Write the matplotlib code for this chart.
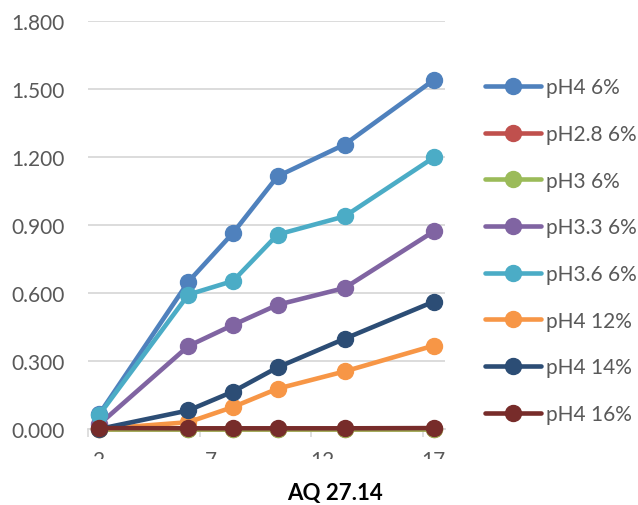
import matplotlib as mpl
import matplotlib.pyplot as plt
from matplotlib.patches import Rectangle

mpl.rcParams['font.family'] = ['Lato', 'DejaVu Sans']

# data
days = [2, 6, 8, 10, 13, 17]
series_names = ['pH4 6%', 'pH2.8 6%', 'pH3 6%', 'pH3.3 6%', 'pH3.6 6%',
                'pH4 12%', 'pH4 14%', 'pH4 16%']
ph4_6 = [0.065, 0.650, 0.865, 1.115, 1.255, 1.540]
ph28_6 = [0.0, 0.0, 0.0, 0.0, 0.0, 0.0]
ph3_6 = [0.0, 0.0, 0.0, 0.0, 0.0, 0.0]
ph33_6 = [0.020, 0.366, 0.459, 0.548, 0.622, 0.872]
ph36_6 = [0.062, 0.593, 0.653, 0.858, 0.938, 1.198]
ph4_12 = [0.0, 0.030, 0.097, 0.178, 0.254, 0.368]
ph4_14 = [0.0, 0.082, 0.165, 0.272, 0.398, 0.562]
ph4_16 = [0.004, 0.003, 0.003, 0.003, 0.003, 0.004]
values = [ph4_6, ph28_6, ph3_6, ph33_6, ph36_6, ph4_12, ph4_14, ph4_16]
colors = ['#4F81BD', '#C0504D', '#9BBB59', '#8064A2', '#4BACC6',
          '#F79646', '#2C4D75', '#772C2A']

fig = plt.figure(figsize=(6.38, 5.06), dpi=100)
ax = fig.add_axes([88 / 638, 76 / 506, 357 / 638, 408 / 506])

for name, vals, c in zip(series_names, values, colors):
    ax.plot(days, vals, color=c, lw=3.3, marker='o', ms=11.5,
            label=name, solid_capstyle='round', clip_on=False, zorder=3)

ax.set_ylim(0, 1.8)
ax.set_yticks([0, 0.3, 0.6, 0.9, 1.2, 1.5, 1.8])
ax.set_yticklabels(['%.3f' % v for v in ax.get_yticks()])
ax.set_xlim(1.5, 17.5)
ax.set_xticks([2, 7, 12, 17])
ax.set_xticks([1.5, 6.5, 11.5, 16.5], minor=True)
ax.tick_params(axis='x', which='major', length=0, pad=15, labelsize=15,
               labelcolor='#595959')
ax.tick_params(axis='x', which='minor', length=6, width=1.2, color='#D9D9D9',
               direction='out')
ax.tick_params(axis='y', length=0, pad=17, labelsize=15, labelcolor='#595959')

ax.grid(axis='y', color='#D9D9D9', lw=1.3, zorder=0)
ax.set_axisbelow(True)
for s in ['top', 'right', 'left']:
    ax.spines[s].set_visible(False)
ax.spines['bottom'].set_color('#D9D9D9')
ax.spines['bottom'].set_linewidth(1.3)

# the category labels are cut off at the bottom in the original
fig.patches.append(Rectangle((0, 0), 1, 46 / 506, transform=fig.transFigure,
                             facecolor='white', edgecolor='none', zorder=1))

fig.text(335 / 638, 12 / 506, 'AQ 27.14', ha='center', va='center',
         fontsize=16, fontweight='bold', color='#000000', zorder=2)

ax.legend(loc='upper left', bbox_to_anchor=(477 / 638, 1 - 70 / 506),
          bbox_transform=fig.transFigure, frameon=False, fontsize=15,
          labelspacing=1.28, handlelength=2.65, handletextpad=0.25,
          borderaxespad=0, labelcolor='#595959')

fig.savefig('out.png', dpi=100)
